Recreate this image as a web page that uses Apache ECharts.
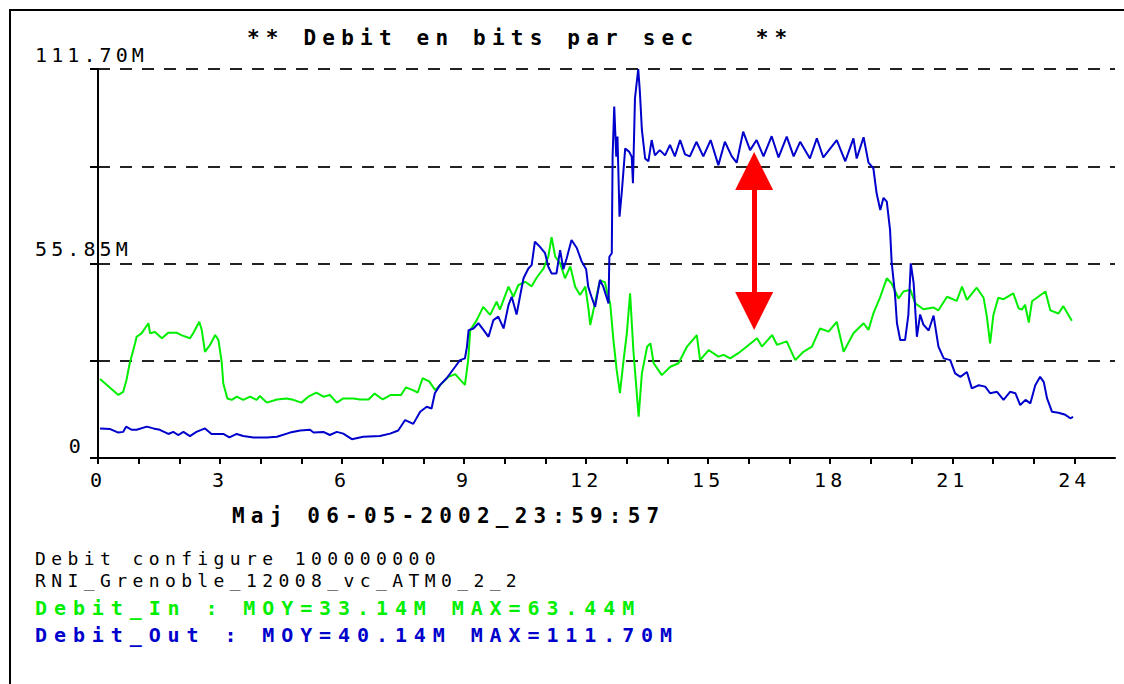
<!DOCTYPE html>
<html>
<head>
<meta charset="utf-8">
<title>Debit en bits par sec</title>
<script src="https://cdn.jsdelivr.net/npm/echarts@6/dist/echarts.min.js"></script>
<style>
html, body { margin: 0; padding: 0; background: #fff; overflow: hidden; }
#frame { position: absolute; left: 9px; top: 9px; width: 1200px; height: 800px; border-left: 2px solid #000; border-top: 2px solid #000; }
#chart { position: absolute; left: 0; top: 0; width: 1124px; height: 684px; }
/* police bitmap large : on elargit l'espacement des lettres */
#chart text { white-space: pre; letter-spacing: 4.1px; }
#chart text[style*="18px"] { letter-spacing: 5.4px; }
#chart text[style*="bold"][style*="20px"] { letter-spacing: 6.9px; }
#chart text[style*="bold"][style*="21px"] { letter-spacing: 6.2px; }
</style>
</head>
<body>
<div id="frame"></div>
<div id="chart"></div>
<script>
var MONO = '"DejaVu Sans Mono", "Liberation Mono", monospace';
var GREEN = '#00ee00';
var BLUE = '#0000cc';

var titleText = '** Debit en bits par sec   **';
var majText = 'Maj 06-05-2002_23:59:57';
var infoLines = ['Debit configure 100000000', 'RNI_Grenoble_12008_vc_ATM0_2_2'];
var inStats = ['33.14M', '63.44M'];
var outStats = ['40.14M', '111.70M'];

// graduations
var xTicks = [0,1,2,3,4,5,6,7,8,9,10,11,12,13,14,15,16,17,18,19,20,21,22,23,24];
var xLabels = [0,3,6,9,12,15,18,21,24];
var yTickValues = [0, 55.85, 111.7];
var yTickLabels = ['0', '55.85M', '111.70M'];

// Debit_In (heure, Mbit/s)
var inTime = [0.05,0.5,0.62,0.7,0.78,0.91,0.95,1.07,1.24,1.28,1.4,1.57,1.73,1.93,2.05,2.26,2.34,2.49,2.55,2.63,2.75,2.88,2.96,
  3.04,3.08,3.18,3.29,3.41,3.57,3.74,3.9,3.98,4.15,4.4,4.64,4.8,5.0,5.17,5.37,5.54,5.7,5.87,6.03,6.28,6.44,6.65,6.8,7.0,
  7.2,7.45,7.57,7.74,7.86,7.98,8.14,8.29,8.45,8.6,8.78,8.9,9.02,9.1,9.15,9.31,9.47,9.64,9.8,9.88,10.09,10.21,10.33,10.5,
  10.66,10.79,10.95,11.07,11.15,11.24,11.36,11.48,11.61,11.73,11.85,11.98,12.06,12.1,12.18,12.34,12.46,12.51,12.59,12.67,
  12.75,12.83,12.92,13.0,13.08,13.16,13.29,13.37,13.5,13.58,13.66,13.86,14.07,14.27,14.48,14.72,14.8,15.01,15.25,15.38,
  15.54,15.74,15.95,16.2,16.32,16.57,16.69,16.93,17.14,17.34,17.55,17.75,17.96,18.16,18.33,18.57,18.82,18.94,19.06,19.23,
  19.39,19.51,19.68,19.8,19.97,20.09,20.29,20.54,20.66,20.87,21.11,21.24,21.36,21.6,21.77,21.85,21.93,22.01,22.13,22.26,
  22.5,22.63,22.71,22.79,22.88,22.96,23.08,23.29,23.41,23.61,23.73,23.94];
var inMbps = [22.7,18.1,19.0,22.4,27.2,32.9,34.8,35.8,38.7,35.8,36.2,34.4,36.0,36.0,35.3,34.4,35.8,39.1,36.8,30.5,32.4,35.3,33.9,
  27.7,21.4,17.1,16.7,17.6,16.7,17.6,16.7,17.8,15.9,16.8,17.1,16.7,15.9,17.6,18.8,17.6,18.1,15.9,17.1,17.1,16.8,16.8,18.5,16.8,
  18.1,18.1,20.3,19.5,18.8,22.9,22.0,19.5,21.4,23.2,24.1,22.5,21.0,28.1,36.7,39.6,43.4,41.1,44.9,42.6,49.2,46.3,49.6,50.6,
  49.3,51.9,54.4,57.8,63.4,57.8,55.9,51.6,55.0,49.2,46.8,49.2,42.5,38.2,42.5,51.0,50.5,47.8,44.4,33.9,
  25.3,18.6,28.1,35.8,47.3,31.0,11.9,24.3,32.0,32.9,27.2,23.8,26.2,27.2,32.0,35.3,28.1,31.0,29.1,29.6,
  28.6,30.1,32.0,34.4,32.0,35.3,32.5,33.5,28.1,30.5,32.0,37.2,36.3,39.1,30.5,35.8,38.7,36.8,41.5,46.3,
  51.6,50.1,45.8,47.8,48.3,44.4,42.7,43.2,42.4,46.3,45.1,49.2,45.4,48.9,46.0,40.6,32.9,41.0,46.0,45.6,
  47.3,43.0,42.6,44.0,38.9,45.0,46.0,47.8,42.4,41.5,43.6,39.4];

// Debit_Out (heure, Mbit/s)
var outTime = [0.05,0.3,0.5,0.62,0.69,0.83,0.95,1.2,1.36,1.52,1.73,1.85,1.97,2.1,2.26,2.42,2.63,2.79,3.08,3.23,3.41,3.57,3.82,
  4.15,4.4,4.72,4.97,5.21,5.3,5.54,5.7,5.87,6.03,6.24,6.52,6.93,7.18,7.38,7.55,7.75,7.92,8.08,8.2,8.28,8.41,8.57,8.78,8.9,
  9.02,9.07,9.11,9.23,9.35,9.48,9.6,9.72,9.84,9.97,10.09,10.17,10.29,10.38,10.46,10.58,10.66,10.74,10.86,10.99,11.07,11.15,
  11.27,11.36,11.44,11.52,11.64,11.77,11.89,12.0,12.05,12.13,12.22,12.34,12.42,12.55,12.57,12.63,12.65,12.69,12.74,12.77,
  12.82,12.88,12.96,13.06,13.12,13.15,13.2,13.28,13.32,13.37,13.45,13.53,13.61,13.69,13.81,13.94,14.06,14.18,14.31,14.43,
  14.55,14.71,14.88,15.06,15.25,15.41,15.58,15.7,15.86,16.03,16.19,16.36,16.56,16.73,16.93,17.1,17.26,17.5,17.67,17.83,
  18.16,18.37,18.57,18.65,18.82,18.94,19.06,19.14,19.23,19.31,19.39,19.47,19.51,19.59,19.64,19.72,19.84,19.92,19.98,20.05,
  20.13,20.21,20.29,20.42,20.54,20.66,20.79,20.95,21.07,21.2,21.36,21.48,21.65,21.81,21.93,22.1,22.26,22.42,22.55,22.67,
  22.8,22.92,23.04,23.16,23.25,23.33,23.45,23.61,23.78,23.9,23.97];
var outMbps = [8.5,8.3,7.3,7.5,9.0,8.1,8.1,9.0,8.5,8.1,6.9,7.5,6.6,7.5,6.3,7.5,8.5,6.9,6.9,5.9,6.9,6.3,5.9,
  5.9,6.1,7.3,7.9,8.1,7.3,7.5,6.6,7.5,7.0,5.4,6.1,6.3,7.0,7.9,10.9,9.8,13.3,14.7,14.2,18.6,21.0,22.9,26.2,28.1,
  28.6,32.0,36.7,37.2,38.7,36.7,34.8,39.6,40.6,37.2,43.9,46.3,41.2,46.8,51.6,54.4,55.4,62.1,60.7,58.8,54.9,53.0,
  53.0,59.7,54.2,57.3,62.6,60.3,56.4,54.2,49.2,46.3,43.4,51.1,49.2,44.4,57.8,58.8,86.5,100.9,86.5,92.3,
  69.3,76.9,88.9,87.9,86.5,78.9,103.3,111.7,105.2,94.2,86.0,85.2,91.3,86.9,88.4,86.9,89.9,86.6,91.3,87.2,
  86.6,90.8,86.6,91.3,84.1,90.8,86.6,84.8,93.7,88.4,91.3,86.6,92.4,86.3,92.3,86.6,90.8,86.0,91.8,86.3,
  91.3,85.2,91.8,86.0,92.1,84.8,83.2,76.0,71.2,74.7,73.6,65.5,56.2,47.3,38.7,33.9,33.9,41.0,55.9,50.2,
  34.8,41.2,38.3,36.6,40.9,32.0,28.6,28.1,24.3,23.3,24.7,20.0,20.9,20.5,18.6,19.0,16.7,19.0,18.6,15.2,
  16.7,15.7,20.9,23.3,21.8,17.1,13.3,13.0,12.4,11.4,11.8];

// fleche rouge : heure, haut, bas
var arrowAt = [16.13, 82.4, 42.2];

function pairs(t, v) {
    var out = [];
    for (var i = 0; i < t.length; i++) {
        out.push([t[i], v[i]]);
    }
    return out;
}

function txt(text, left, top, size, bold, color, lh) {
    return {
        text: text, left: left, top: top, padding: 0,
        textStyle: { fontFamily: MONO, fontSize: size, fontWeight: bold ? 'bold' : 'normal', color: color, lineHeight: lh || size + 1 }
    };
}

var myChart = echarts.init(document.getElementById('chart'), null, { renderer: 'svg' });
var option = {
    animation: false,
    backgroundColor: 'transparent',
    title: [
        txt(titleText, 247, 27, 21, true, '#000'),
        txt(majText, 232, 505, 21, true, '#000'),
        txt(infoLines[0], 35, 549, 18, false, '#000', 18),
        txt(infoLines[1], 35, 571, 18, false, '#000', 18),
        txt('Debit_In : MOY=' + inStats[0] + ' MAX=' + inStats[1], 35, 597, 20, true, GREEN),
        txt('Debit_Out : MOY=' + outStats[0] + ' MAX=' + outStats[1], 35, 624, 20, true, BLUE)
    ],
    grid: { left: 98, right: 9, top: 69, bottom: 226, containLabel: false, outerBoundsMode: 'none' },
    xAxis: {
        type: 'value', min: 0, max: 25, interval: 1,
        axisLine: { onZero: false, lineStyle: { color: '#000', width: 2 } },
        axisTick: { show: true, customValues: xTicks, length: 6, lineStyle: { color: '#000', width: 2 } },
        axisLabel: {
            customValues: xLabels, margin: 12, color: '#000', fontFamily: MONO, fontSize: 20,
            formatter: function (v) { return v % 3 === 0 && v <= 24 ? String(v) : ''; }
        },
        splitLine: { show: false }
    },
    yAxis: {
        type: 'value', min: 0, max: 111.7, interval: 27.925,
        axisLine: { show: true, lineStyle: { color: '#000', width: 2 } },
        axisTick: { show: true, length: 8, lineStyle: { color: '#000', width: 2 } },
        splitLine: { show: true, lineStyle: { color: '#222', width: 2, type: [12, 10] } },
        axisLabel: {
            margin: 63, align: 'left', verticalAlign: 'bottom', lineHeight: 29,
            color: '#000', fontFamily: MONO, fontSize: 20,
            formatter: function (v) {
                for (var i = 0; i < yTickValues.length; i++) {
                    if (Math.abs(v - yTickValues[i]) < 0.01) {
                        return i === 0 ? '{z|' + yTickLabels[i] + '}' : yTickLabels[i];
                    }
                }
                return '';
            },
            rich: {
                z: { width: 50, align: 'right', fontFamily: MONO, fontSize: 20, color: '#000', lineHeight: 24 }
            }
        }
    },
    series: [
        {
            name: 'Debit_In', type: 'line', symbol: 'none', data: pairs(inTime, inMbps),
            lineStyle: { color: GREEN, width: 2 }, itemStyle: { color: GREEN }
        },
        {
            name: 'Debit_Out', type: 'line', symbol: 'none', data: pairs(outTime, outMbps),
            lineStyle: { color: BLUE, width: 2 }, itemStyle: { color: BLUE },
            markLine: {
                silent: true, animation: false,
                symbol: ['triangle', 'triangle'], symbolSize: [38, 38],
                lineStyle: { color: '#ff0000', width: 5, type: 'solid' },
                itemStyle: { color: '#ff0000' },
                label: { show: false },
                emphasis: { disabled: true },
                data: [[{ coord: [arrowAt[0], arrowAt[1]] }, { coord: [arrowAt[0], arrowAt[2]] }]]
            }
        }
    ]
};
myChart.setOption(option);
</script>
</body>
</html>
